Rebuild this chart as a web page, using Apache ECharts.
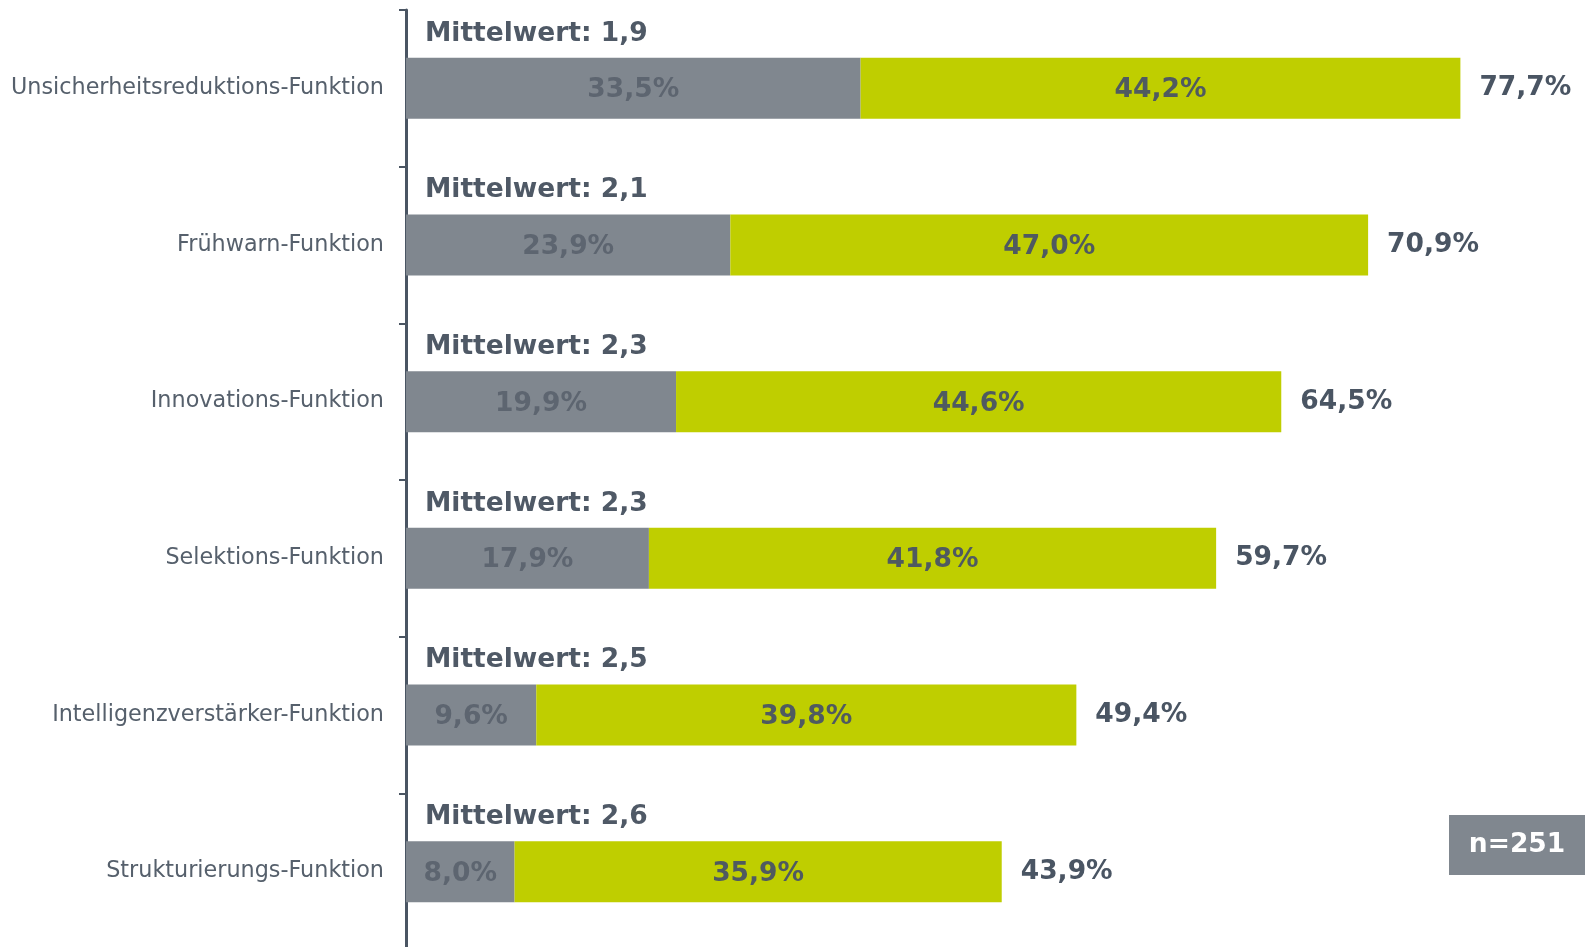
<!DOCTYPE html>
<html>
<head>
<meta charset="utf-8">
<script src="https://cdn.jsdelivr.net/npm/echarts@6/dist/echarts.min.js"></script>
<style>
  html, body { margin: 0; padding: 0; background: #fff; }
  #chart { width: 1585px; height: 947px; }
</style>
</head>
<body>
<div id="chart"></div>
<script>
const categories = [
    "Unsicherheitsreduktions-Funktion",
    "Frühwarn-Funktion",
    "Innovations-Funktion",
    "Selektions-Funktion",
    "Intelligenzverstärker-Funktion",
    "Strukturierungs-Funktion"
];
const grayValues = [33.5, 23.9, 19.9, 17.9, 9.6, 8.0];
const greenValues = [44.2, 47.0, 44.6, 41.8, 39.8, 35.9];
const totals = [77.7, 70.9, 64.5, 59.7, 49.4, 43.9];
const means = ["1,9", "2,1", "2,3", "2,3", "2,5", "2,6"];
const sampleNote = "n=251";

const font = "DejaVu Sans";
const pct = (v) => v.toFixed(1).replace(".", ",") + "%";

const chart = echarts.init(document.getElementById("chart"));

const option = {
    animation: false,
    backgroundColor: "#ffffff",
    grid: {
        left: 406,
        top: 10,
        width: 1357,
        height: 940,
        outerBoundsMode: "none",
        containLabel: false,
    },
    xAxis: {
        type: "value",
        min: 0,
        max: 100,
        show: false,
    },
    yAxis: {
        type: "category",
        inverse: true,
        data: categories,
        axisLine: {
            show: true,
            lineStyle: { color: "#4a5563", width: 3 },
        },
        axisTick: {
            show: true,
            length: 7,
            lineStyle: { color: "#4a5563", width: 2 },
        },
        axisLabel: {
            margin: 22,
            fontFamily: font,
            fontSize: 22.3,
            color: "#56606c",
        },
    },
    series: [
        {
            name: "gray",
            type: "bar",
            stack: "a",
            barWidth: 61,
            barGap: "-100%",
            data: grayValues,
            itemStyle: { color: "#80878f" },
            label: {
                show: true,
                position: "inside",
                offset: [0, 2],
                fontFamily: font,
                fontWeight: "bold",
                fontSize: 26.5,
                color: "#5d6570",
                formatter: (p) => pct(p.value),
            },
        },
        {
            name: "green",
            type: "bar",
            stack: "a",
            barWidth: 61,
            barGap: "-100%",
            data: greenValues,
            itemStyle: { color: "#bfce00" },
            label: {
                show: true,
                position: "inside",
                offset: [0, 2],
                fontFamily: font,
                fontWeight: "bold",
                fontSize: 26.5,
                color: "#4f5a60",
                formatter: (p) => pct(p.value),
            },
        },
        {
            name: "total",
            type: "bar",
            barWidth: 61,
            barGap: "-100%",
            silent: true,
            data: totals,
            itemStyle: { color: "rgba(0,0,0,0)" },
            label: {
                show: true,
                position: "right",
                distance: 19,
                fontFamily: font,
                fontWeight: "bold",
                fontSize: 26.5,
                color: "#4a5563",
                formatter: (p) => pct(p.value),
            },
        },
        {
            name: "mean",
            type: "bar",
            barWidth: 61,
            barGap: "-100%",
            silent: true,
            data: totals,
            itemStyle: { color: "rgba(0,0,0,0)" },
            label: {
                show: true,
                position: [19, -24],
                align: "left",
                verticalAlign: "middle",
                fontFamily: font,
                fontWeight: "bold",
                fontSize: 26.5,
                color: "#4f5966",
                formatter: (p) => "Mittelwert: " + means[p.dataIndex],
            },
        },
    ],
    graphic: [
        {
            type: "rect",
            left: 1449,
            top: 815,
            shape: { width: 136, height: 60 },
            style: { fill: "#80878f" },
        },
        {
            type: "text",
            x: 1517,
            y: 845,
            style: {
                text: sampleNote,
                fill: "#ffffff",
                font: "bold 26.5px 'DejaVu Sans'",
                align: "center",
                verticalAlign: "middle",
            },
        },
    ],
};

chart.setOption(option);
window.addEventListener("resize", () => chart.resize());
</script>
</body>
</html>
